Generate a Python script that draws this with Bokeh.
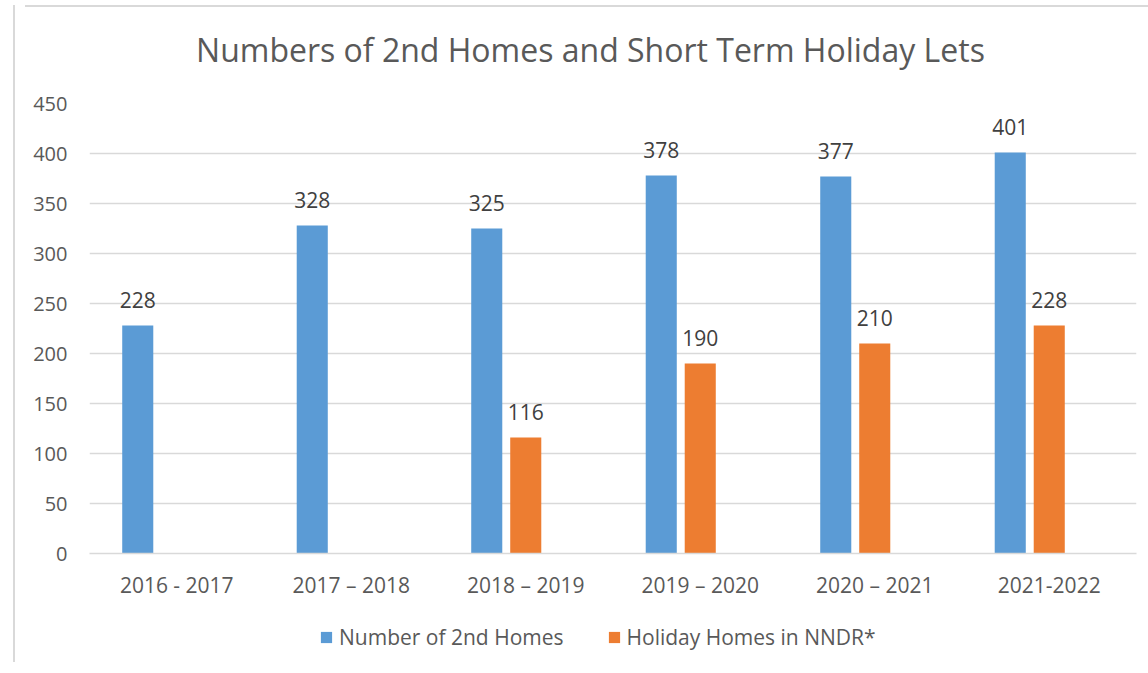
from bokeh.plotting import figure
from bokeh.models import (ColumnDataSource, LabelSet, Label, Legend, LegendItem,
                          FixedTicker, Range1d, Div, Spacer)
from bokeh.layouts import row, column
from bokeh.core.properties import value
from bokeh.embed import file_html
from bokeh.resources import INLINE

# ---- data ----
categories = ["2016 - 2017", "2017 \u2013 2018", "2018 \u2013 2019",
              "2019 \u2013 2020", "2020 \u2013 2021", "2021-2022"]
second_homes = [228, 328, 325, 378, 377, 401]
holiday_homes = [None, None, 116, 190, 210, 228]
series_names = ["Number of 2nd Homes", "Holiday Homes in NNDR*"]
title_text = "Numbers of 2nd Homes and Short Term Holiday Lets"
y_ticks = [0, 50, 100, 150, 200, 250, 300, 350, 400, 450]

BLUE = "#5B9BD5"
ORANGE = "#ED7D31"
FONT = "Open Sans"
GRID = "#d9d9d9"

idx = list(range(len(categories)))
bar_w = 0.178
off_blue = -0.2235
off_orange = 0.0

src_blue = ColumnDataSource(dict(
    x=[i + off_blue for i in idx], top=second_homes,
    label=[str(v) for v in second_homes]))
oi = [i for i in idx if holiday_homes[i] is not None]
src_orange = ColumnDataSource(dict(
    x=[i + off_orange for i in oi], top=[holiday_homes[i] for i in oi],
    label=[str(holiday_homes[i]) for i in oi]))

W = 1130
xr = Range1d(-0.5, len(categories) - 0.5)

fig = figure(width=W, height=525, output_backend="svg", toolbar_location=None,
             x_range=xr, y_range=Range1d(0, 450),
             min_border_left=69, min_border_right=14, min_border_top=21,
             min_border_bottom=54)
fig.outline_line_color = None
fig.background_fill_color = "white"
fig.border_fill_color = "white"

r_blue = fig.vbar(x="x", top="top", width=bar_w, bottom=0, source=src_blue,
                  fill_color=BLUE, line_color=None)
r_orange = fig.vbar(x="x", top="top", width=bar_w, bottom=0, source=src_orange,
                    fill_color=ORANGE, line_color=None)

for s in (src_blue, src_orange):
    fig.add_layout(LabelSet(x="x", y="top", text="label", source=s,
                            text_align="center", text_baseline="alphabetic",
                            y_offset=18, text_font=value(FONT),
                            text_font_size="21px", text_color="#404040"))

# axes
fig.xaxis.ticker = FixedTicker(ticks=idx)
fig.xaxis.major_label_overrides = {i: c for i, c in zip(idx, categories)}
fig.xaxis.axis_line_color = GRID
fig.xaxis.axis_line_width = 1.5
fig.xaxis.major_tick_line_color = None
fig.xaxis.minor_tick_line_color = None
fig.xaxis.major_label_standoff = 11
fig.xaxis.major_label_text_font = FONT
fig.xaxis.major_label_text_font_size = "21px"
fig.xaxis.major_label_text_color = "#595959"

fig.yaxis.ticker = FixedTicker(ticks=y_ticks)
fig.yaxis.axis_line_color = None
fig.yaxis.major_tick_line_color = None
fig.yaxis.minor_tick_line_color = None
fig.yaxis.major_tick_in = 0
fig.yaxis.major_tick_out = 0
fig.yaxis.major_label_standoff = 22
fig.yaxis.major_label_text_font = FONT
fig.yaxis.major_label_text_font_size = "20px"
fig.yaxis.major_label_text_color = "#595959"

fig.xgrid.grid_line_color = None
fig.ygrid.grid_line_color = GRID
fig.ygrid.grid_line_width = 1.5


def strip(height, x_range):
    s = figure(width=W, height=height, output_backend="svg", toolbar_location=None,
               x_axis_location=None, y_axis_location=None,
               x_range=x_range, y_range=Range1d(0, height),
               min_border_left=0, min_border_right=0, min_border_top=0,
               min_border_bottom=0)
    s.outline_line_color = None
    s.xgrid.grid_line_color = None
    s.ygrid.grid_line_color = None
    return s


# title strip (above the chart)
title_fig = strip(70, xr)
title_fig.add_layout(Label(x=2.371, y=33, text=title_text, text_align="center",
                           text_baseline="alphabetic", text_font=FONT,
                           text_font_size="32px", text_color="#595959"))

# legend strip (below the chart)
leg_fig = strip(60, Range1d(0, 1))
# legend swatches only (kept outside the visible range)
lr_blue = leg_fig.vbar(x=[-1], top=[0], width=0.1, fill_color=BLUE, line_color=None)
lr_orange = leg_fig.vbar(x=[-1], top=[0], width=0.1, fill_color=ORANGE, line_color=None)
legend = Legend(items=[LegendItem(label=series_names[0], renderers=[lr_blue]),
                       LegendItem(label=series_names[1], renderers=[lr_orange])],
                orientation="horizontal", location=(230, 16),
                glyph_width=14, glyph_height=14, label_standoff=6, spacing=43,
                padding=0, margin=0, border_line_color=None,
                background_fill_alpha=0, label_text_font=FONT,
                label_text_font_size="21px", label_text_color="#595959")
leg_fig.add_layout(legend, "center")

# chart-area border (left and top edges)
left_edge = Div(width=2, height=657, styles={"background-color": GRID})
top_edge = Div(width=W, height=2, styles={"background-color": GRID})
p = row(Spacer(width=8, height=657), left_edge,
        column(top_edge, title_fig, fig, leg_fig, spacing=0), spacing=0)

open("out.html", "w").write(file_html(p, INLINE))
